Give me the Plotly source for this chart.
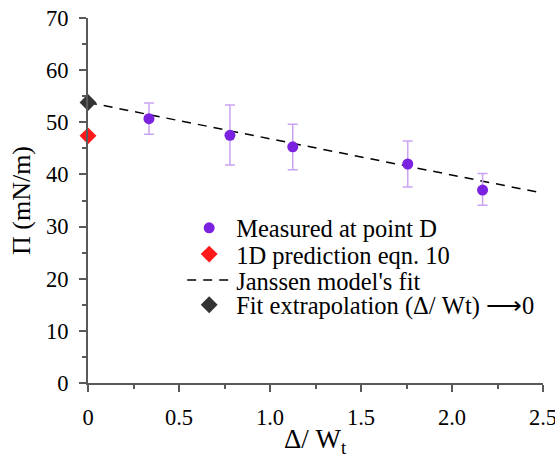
import plotly.graph_objects as go

# measured values at point D
ratio = [0.335, 0.78, 1.125, 1.757, 2.168]
pressure = [50.7, 47.5, 45.3, 42.0, 37.0]
err_hi = [53.7, 53.3, 49.6, 46.4, 40.2]
err_lo = [47.7, 41.8, 40.9, 37.6, 34.1]

pred_x = [0]
pred_y = [47.4]

fit_x = [0, 2.5]
fit_y = [53.8, 36.4]

extrap_x = [0]
extrap_y = [53.8]

err_plus = [h - p for h, p in zip(err_hi, pressure)]
err_minus = [p - l for p, l in zip(pressure, err_lo)]

font = "Liberation Serif"
axcol = "#595959"

fig = go.Figure()

fig.add_trace(go.Scatter(
    x=fit_x, y=fit_y, mode="lines", name="Janssen model's fit",
    line=dict(color="black", width=1.5, dash="9px,7px"), legend="legend3",
))
fig.add_trace(go.Scatter(
    x=ratio, y=pressure, mode="markers", name="Measured at point D",
    marker=dict(color="#7a22e0", size=11),
    error_y=dict(type="data", symmetric=False, array=err_plus, arrayminus=err_minus,
                 color="#c9a3f2", thickness=1.5, width=5),
    legend="legend",
))
fig.add_trace(go.Scatter(
    x=pred_x, y=pred_y, mode="markers", name="1D prediction eqn. 10",
    marker=dict(color="#ff1a1a", size=13, symbol="diamond"), legend="legend2",
    cliponaxis=False,
))
fig.add_trace(go.Scatter(
    x=extrap_x, y=extrap_y, mode="markers", name="Fit extrapolation (Δ/ Wt) ⟶0",
    marker=dict(color="#333333", size=13, symbol="diamond"), legend="legend4",
    cliponaxis=False,
))

leg = dict(x=0.207, xanchor="left", yanchor="middle", bgcolor="rgba(0,0,0,0)",
           font=dict(family=font, size=24.5), itemwidth=44)

fig.update_layout(
    width=555, height=455,
    margin=dict(l=88, r=12, t=18, b=72),
    paper_bgcolor="white", plot_bgcolor="white",
    font=dict(family=font, size=22, color="black"),
    showlegend=True,
    legend=dict(leg, y=0.425),
    legend2=dict(leg, y=0.353),
    legend3=dict(leg, y=0.282),
    legend4=dict(leg, y=0.214),
)

# x axis title as an annotation so it can sit low, as in the original
fig.add_annotation(text="Δ/ W<sub>t</sub>", x=0.5, y=0, xref="paper", yref="paper",
                   xanchor="center", yanchor="top", yshift=-39, showarrow=False,
                   font=dict(family=font, size=27))

fig.update_xaxes(
    range=[0, 2.5], tickvals=[0, 0.5, 1.0, 1.5, 2.0, 2.5],
    ticktext=["0", "0.5", "1.0", "1.5", "2.0", "2.5"],
    tickfont=dict(family=font, size=22.5), ticklabelstandoff=6, ticklabeloverflow="allow",
    showline=True, linecolor=axcol, linewidth=2, showgrid=False, zeroline=False,
    ticks="outside", ticklen=7, tickwidth=2, tickcolor=axcol,
    minor=dict(dtick=0.25, ticks="outside", ticklen=4, tickwidth=2, tickcolor=axcol, showgrid=False),
    automargin=False,
)
fig.update_yaxes(
    range=[0, 70], dtick=10,
    tickfont=dict(family=font, size=22.5), ticklabelstandoff=6, ticklabeloverflow="allow",
    showline=True, linecolor=axcol, linewidth=2, showgrid=False, zeroline=False,
    ticks="outside", ticklen=7, tickwidth=2, tickcolor=axcol,
    minor=dict(dtick=5, ticks="outside", ticklen=4, tickwidth=2, tickcolor=axcol, showgrid=False),
    title=dict(text="Π (mN/m)", font=dict(family=font, size=26), standoff=8),
    automargin=False,
)

# drop the default page margin so the figure sits at the window's corner
fig.write_html("out.html", config={"displayModeBar": False},
               post_script="document.body.style.margin='0';document.body.style.overflow='hidden';")
